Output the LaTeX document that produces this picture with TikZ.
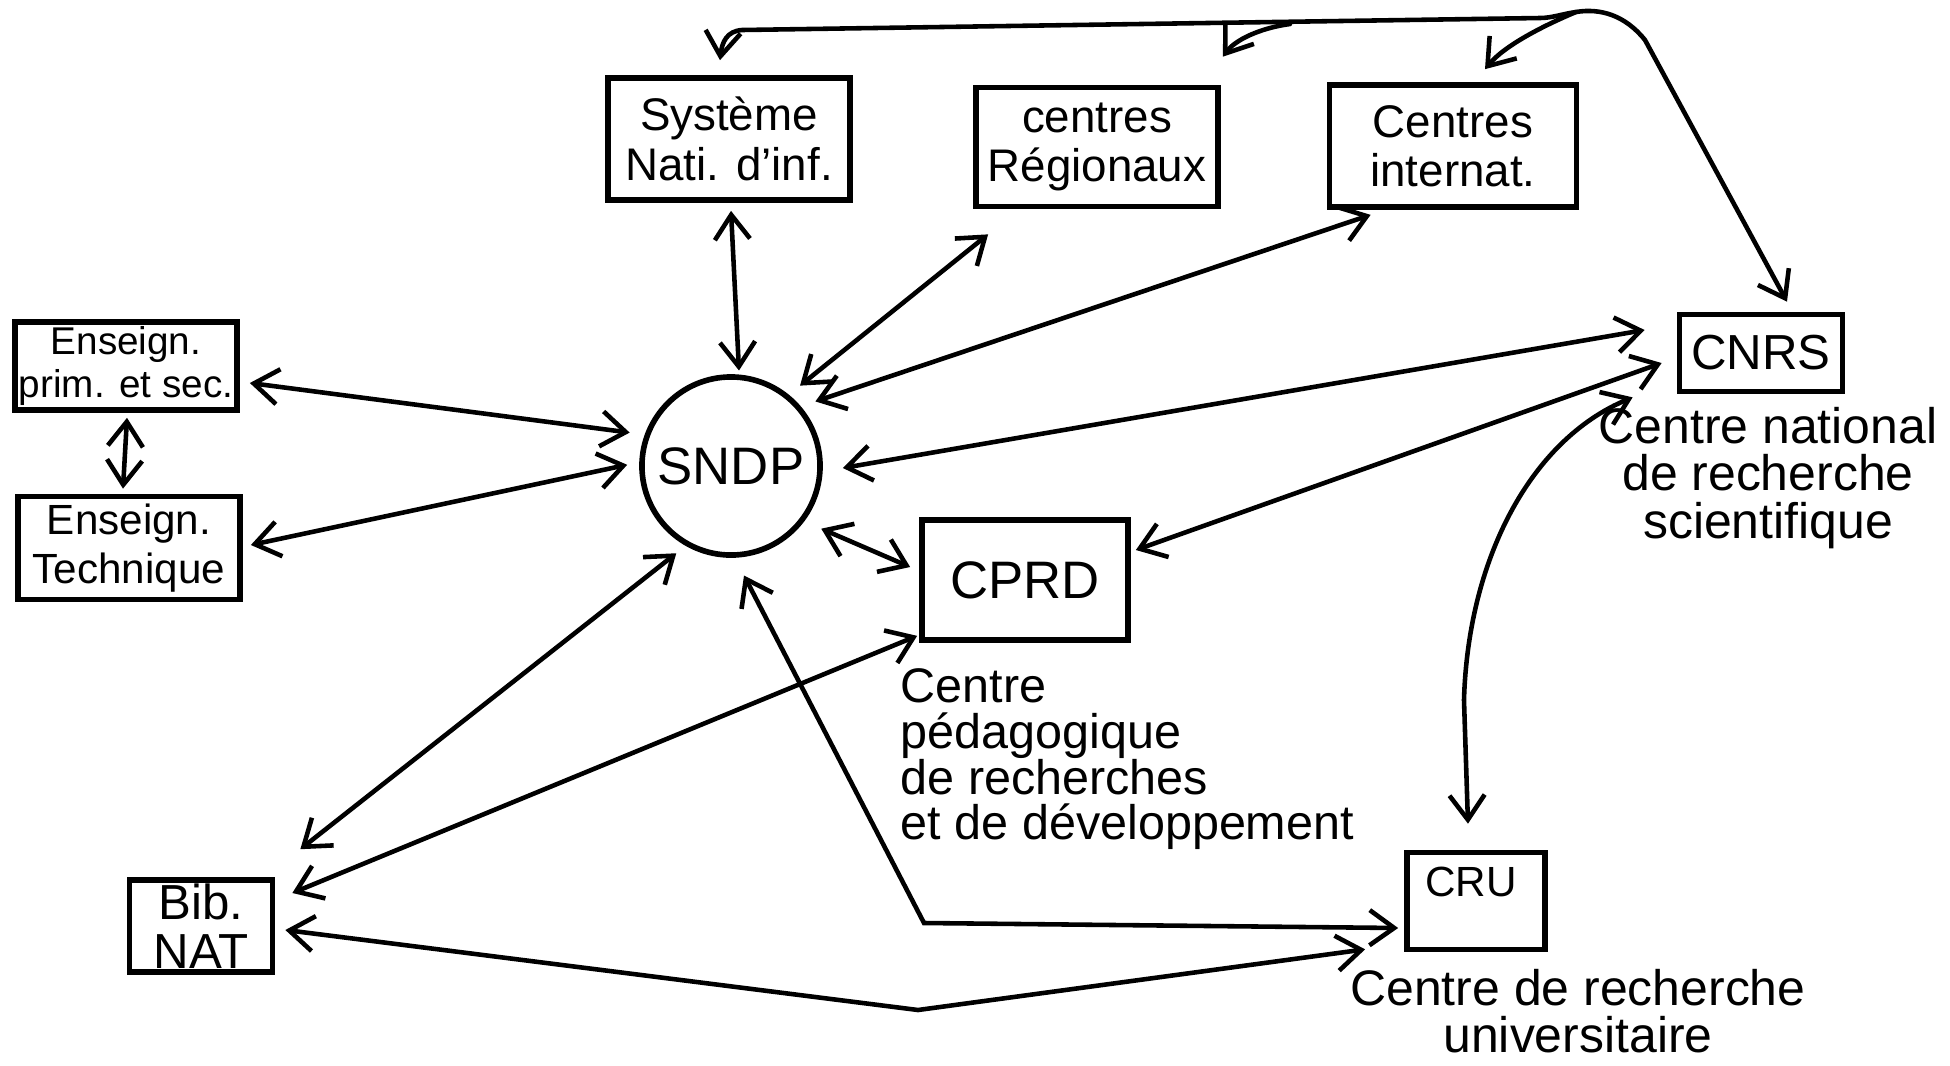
\documentclass[tikz,border=0pt]{standalone}
\usepackage{fontspec}
\setmainfont{Liberation Sans}
\usetikzlibrary{arrows.meta}
\newcommand{\tightlines}{\lineskiplimit-20pt\relax}
\begin{document}
\begin{tikzpicture}[x=0.01cm,y=-0.01cm,
  box/.style={draw,line width=1.6pt,inner sep=1pt,align=center},
  lnk/.style={line width=1.3pt,line cap=round,{Straight Barb[length=7pt,width=10pt]}-{Straight Barb[length=7pt,width=10pt]}},
  one/.style={line width=1.3pt,line cap=round,-{Straight Barb[length=7pt,width=10pt]}},
  fA/.style={font=\fontsize{13pt}{14pt}\selectfont},
  fB/.style={font=\fontsize{11pt}{12pt}\selectfont},
  lab/.style={inner sep=0pt,font=\fontsize{14.2pt}{13.4pt}\selectfont\tightlines},
]
\useasboundingbox (0,0) rectangle (1950,1066);
% boxes
\node[box,fA,minimum width=2.42cm,minimum height=1.22cm] (sys) at (729,139) {Système\\Nati. d'inf.};
\node[box,fA,minimum width=2.42cm,minimum height=1.19cm] (reg) at (1097,147) {centres\\Régionaux};
\node[box,fA,minimum width=2.47cm,minimum height=1.22cm] (int) at (1453,146) {Centres\\internat.};
\node[box,minimum width=1.63cm,minimum height=0.77cm,font=\fontsize{14pt}{15pt}\selectfont] (cnrs) at (1761,353) {CNRS};
\node[box,fB,minimum width=2.22cm,minimum height=0.88cm] (ensp) at (126,366) {Enseign.\\prim. et sec.};
\node[box,font=\fontsize{12pt}{14pt}\selectfont,minimum width=2.22cm,minimum height=1.03cm] (enst) at (129,548) {Enseign.\\Technique};
\node[draw,circle,line width=1.6pt,minimum size=1.78cm,inner sep=0pt,font=\fontsize{15pt}{16pt}\selectfont] (sndp) at (731,466) {SNDP};
\node[box,minimum width=2.06cm,minimum height=1.20cm,font=\fontsize{15pt}{16pt}\selectfont] (cprd) at (1025,580) {CPRD};
\node[box,minimum width=1.43cm,minimum height=0.83cm,font=\fontsize{14pt}{14pt}\selectfont] (bib) at (201,926) {Bib.\\NAT};
\node[box,minimum width=1.38cm,minimum height=0.97cm] (cru) at (1476,901) {};
\node[font=\fontsize{12pt}{13pt}\selectfont] (crut) at (1471,882) {CRU};
% labels
\node[lab,align=center] (cnrsl) at (1768,478) {Centre national\\de recherche\\scientifique};
\node[lab,align=left,anchor=north west,font=\fontsize{13.8pt}{13pt}\selectfont\tightlines] (cprdl) at (900,668) {Centre\\pédagogique\\de recherches\\et de développement};
\node[lab,align=center] (crul) at (1578,1011) {Centre de recherche\\universitaire};
% connectors
\draw[lnk] ([shift={(0,-4)}]sndp.85) -- ([shift={(2,8)}]sys.south);
\draw[lnk] ([shift={(10,-10)}]sndp.50) -- ([shift={(15,25)}]reg.south west);
\draw[lnk] ([shift={(12,-8)}]sndp.38) -- ([shift={(44,5)}]int.south west);
\draw[lnk] ([shift={(20,2)}]sndp.0) -- ([shift={(-32,-23)}]cnrs.west);
\draw[lnk] ([shift={(5,-30)}]cprd.east) -- ([shift={(-15,10)}]cnrs.west);
\draw[lnk] ([shift={(-44,3)}]cnrs.south west) .. controls (1530,440) and (1468,560) .. (1464,700) -- ([shift={(-8,-26)}]cru.north);
\draw[lnk] ([shift={(10,17)}]ensp.east) -- ([shift={(-15,-2)}]sndp.160);
\draw[lnk] ([shift={(8,-3)}]enst.east) -- ([shift={(-12,2)}]sndp.178);
\draw[lnk] ([shift={(1,5)}]ensp.south) -- ([shift={(-6,-5)}]enst.north);
\draw[lnk] ([shift={(15,10)}]sndp.-35) -- ([shift={(-9,-13)}]cprd.west);
\draw[lnk] ([shift={(-2,12)}]sndp.235) -- ([shift={(25,-28)}]bib.north east);
\draw[lnk] ([shift={(-2,-7)}]cprd.south west) -- ([shift={(17,-33)}]bib.east);
\draw[lnk] ([shift={(10,4)}]bib.east) -- (918,1010) -- ([shift={(-39,-3)}]cru.south west);
\draw[lnk] ([shift={(5,18)}]sndp.-85) -- (924,923) -- ([shift={(-6,27)}]cru.west);
% top connector from CNRS
\draw[lnk] ([shift={(26,-10)}]cnrs.north) -- (1645,40) .. controls (1625,15) and (1600,8) .. (1576,12) .. controls (1562,14) and (1552,18) .. (1540,18) -- (742,30) .. controls (727,31) and (722,42) .. ([shift={(-9,-15)}]sys.north);
\draw[one] (1290,24) .. controls (1260,28) and (1235,40) .. ([shift={(2,-28)}]reg.north east);
\draw[one] (1576,12) .. controls (1545,25) and (1505,45) .. ([shift={(32,-13)}]int.north);
\end{tikzpicture}
\end{document}
